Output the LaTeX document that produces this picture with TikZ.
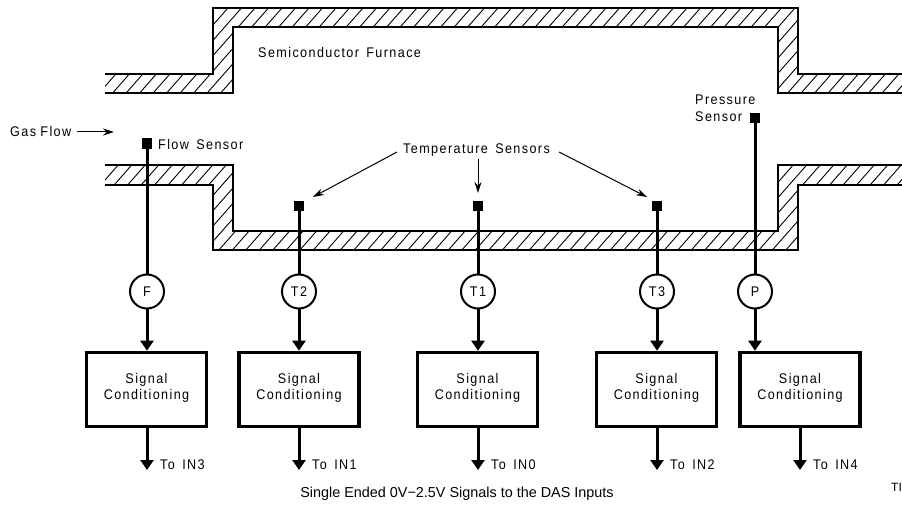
\documentclass[tikz,border=0pt]{standalone}
\usepackage{fontspec}
\setmainfont{Liberation Sans}
\newfontfamily\dfont[FakeStretch=0.9,LetterSpace=10,WordSpace=1.5]{Liberation Sans}
\usetikzlibrary{arrows.meta}
\tikzset{
  wall/.style={line width=2pt,line join=miter},
  hatchline/.style={line width=0.9pt},
  lbl/.style={font=\dfont\fontsize{14}{17}\selectfont,inner sep=0pt,align=center},
  sensor/.style={fill=black,draw=none,minimum size=10.5pt,inner sep=0pt,outer sep=0pt},
  circ/.style={circle,draw,fill=white,line width=2pt,minimum size=34pt,inner sep=0pt,outer sep=0pt,font=\dfont\fontsize{14}{14}\selectfont},
  sigbox/.style={draw,fill=white,line width=3.6pt,minimum width=120pt,minimum height=74pt,inner sep=0pt,outer sep=1.8pt,align=center,text depth=7pt,font=\dfont\fontsize{14}{16}\selectfont},
  wire/.style={line width=3pt},
  sig/.style={line width=3pt,-{Triangle[length=10pt,width=13pt]}},
  thin arrow/.style={line width=1pt,-{Stealth[length=11pt,width=7pt]}},
}
\begin{document}
\begin{tikzpicture}[x=1pt,y=-1pt]
\useasboundingbox (0,0) rectangle (902,529);
% upper wall
\begin{scope}
\clip (105,74) -- (213,74) -- (213,8) -- (798,8) -- (798,74.5) -- (902,74.5) -- (902,93.5) -- (778,93.5) -- (778,27.5) -- (233,27.5) -- (233,93.5) -- (105,93.5) -- cycle;
\foreach \i in {0,...,75} \draw[hatchline] (12+13.5*\i,100) -- (100+13.5*\i,0);
\end{scope}
% lower wall
\begin{scope}
\clip (105,165) -- (233,165) -- (233,231) -- (778,231) -- (778,165) -- (902,165) -- (902,185) -- (798,185) -- (798,250) -- (213,250) -- (213,185) -- (105,185) -- cycle;
\foreach \i in {0,...,75} \draw[hatchline] (12+13.5*\i,255) -- (100+13.5*\i,155);
\end{scope}
\draw[wall] (105,74) -- (213,74) -- (213,8) -- (798,8) -- (798,74.5) -- (902,74.5);
\draw[wall] (105,93.5) -- (233,93.5) -- (233,27.5) -- (778,27.5) -- (778,93.5) -- (902,93.5);
\draw[wall] (105,165) -- (233,165) -- (233,231) -- (778,231) -- (778,165) -- (902,165);
\draw[wall] (105,185) -- (213,185) -- (213,250) -- (798,250) -- (798,185) -- (902,185);
% sensors
\node[sensor] (sF) at (147,143.5) {};
\node[sensor] (sT2) at (299,206) {};
\node[sensor] (sT1) at (478,206) {};
\node[sensor] (sT3) at (657,206) {};
\node[sensor] (sP) at (755,118) {};
% circles
\node[circ] (cF) at (147,291.5) {F};
\node[circ] (cT2) at (299,291.5) {T2};
\node[circ] (cT1) at (478,291.5) {T1};
\node[circ] (cT3) at (657,291.5) {T3};
\node[circ] (cP) at (755,291.5) {P};
% boxes
\node[sigbox] (bF) at (146.5,389.5) {Signal\\Conditioning};
\node[sigbox] (bT2) at (299,389.5) {Signal\\Conditioning};
\node[sigbox] (bT1) at (477.5,389.5) {Signal\\Conditioning};
\node[sigbox] (bT3) at (656.5,389.5) {Signal\\Conditioning};
\node[sigbox] (bP) at (800,389.5) {Signal\\Conditioning};
% outputs
\coordinate (oF) at (147,470);
\coordinate (oT2) at (299,470);
\coordinate (oT1) at (478,470);
\coordinate (oT3) at (657,470);
\coordinate (oP) at (800,470);
\foreach \n in {F,T2,T1,T3,P} {
  \draw[wire] (s\n) -- (c\n);
}
\foreach \n in {F,T2,T1,T3,P} {
  \draw[sig] (c\n) -- (c\n |- b\n.north);
  \draw[sig] (o\n |- b\n.south) -- (o\n);
}
% labels
\node[lbl,anchor=base west] (tF) at (160,469) {To IN3};
\node[lbl,anchor=base west] (tT2) at (312,469) {To IN1};
\node[lbl,anchor=base west] (tT1) at (491,469) {To IN0};
\node[lbl,anchor=base west] (tT3) at (670,469) {To IN2};
\node[lbl,anchor=base west] (tP) at (813,469) {To IN4};
\node[lbl,anchor=base west] (furn) at (258,58) {Semiconductor Furnace};
\node[lbl,anchor=base west] (flow) at (158,150) {Flow Sensor};
\node[lbl,anchor=base west] (gas) at (10,137) {Gas\hspace{-3pt} Flow};
\node[lbl,anchor=base west] (press) at (695,105) {Pressure};
\node[lbl,anchor=base west] (psens) at (695,122) {Sensor};
\node[lbl,anchor=base west] (temp) at (403,154) {Temperature Sensors};
\node[inner sep=0pt,anchor=base,font=\fontsize{14.4}{16}\selectfont] (cap) at (457,497) {Single Ended 0V−2.5V Signals to the DAS Inputs};
\node[inner sep=0pt,anchor=base west,font=\fontsize{12}{14}\selectfont] (ti) at (891,491) {TI};
% thin arrows
\coordinate (gasStart) at (77,132);
\coordinate (gasTip) at (114,132);
\draw[thin arrow] (gasStart) -- (gasTip);
\coordinate (startL) at (397,152);
\coordinate (startM) at (478,159);
\coordinate (startR) at (559,152);
\coordinate (tipL) at (313,197);
\coordinate (tipM) at (478,193);
\coordinate (tipR) at (647,197);
\draw[thin arrow] (startL) -- (tipL);
\draw[thin arrow] (startM) -- (tipM);
\draw[thin arrow] (startR) -- (tipR);
\end{tikzpicture}
\end{document}
